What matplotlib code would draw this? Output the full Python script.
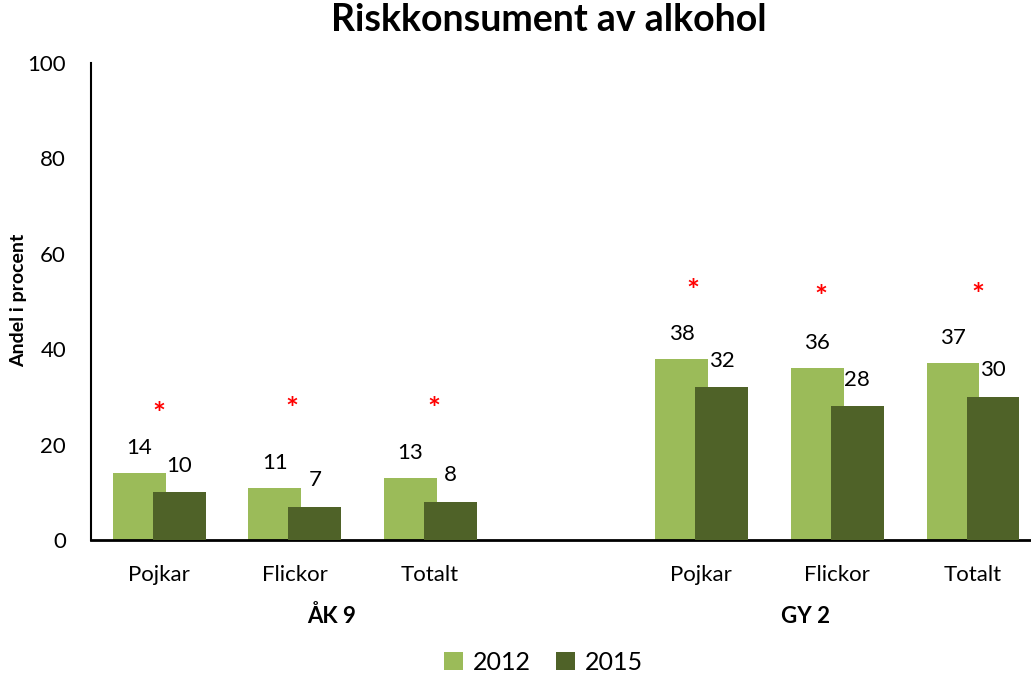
import matplotlib.pyplot as plt
import numpy as np

plt.rcParams['font.family'] = ['Lato', 'DejaVu Sans']

# data
categories = ['Pojkar', 'Flickor', 'Totalt', 'Pojkar', 'Flickor', 'Totalt']
groups = ['ÅK 9', 'GY 2']
y2012 = [14, 11, 13, 38, 36, 37]
y2015 = [10, 7, 8, 32, 28, 30]
star_y = [27.9, 28.9, 28.9, 53.5, 52.4, 52.8]
star_dx = [0.0, -0.02, 0.03, -0.06, -0.12, 0.04]

pos = np.array([0, 1, 2, 4, 5, 6])
light = '#9BBB59'
dark = '#4F6228'
w = 0.39

fig = plt.figure(figsize=(10.31, 6.77), dpi=100)
ax = fig.add_axes([0.0883, 0.2024, 0.9117, 0.7046])

b1 = ax.bar(pos - 0.145, y2012, width=w, color=light, label='2012', zorder=2)
b2 = ax.bar(pos + 0.15, y2015, width=w, color=dark, label='2015', zorder=3)

for b, v in zip(b1, y2012):
    ax.annotate(str(v), (b.get_x() + b.get_width() / 2, v), xytext=(0, 18),
                textcoords='offset points', ha='center', va='center', fontsize=16)
for b, v in zip(b2, y2015):
    ax.annotate(str(v), (b.get_x() + b.get_width() / 2, v), xytext=(0, 19),
                textcoords='offset points', ha='center', va='center', fontsize=16)

# significance stars
for p, dx, s in zip(pos, star_dx, star_y):
    ax.text(p + dx, s - 1.6, '*', color='red', ha='center', va='center',
            fontsize=22, fontweight='bold')

ax.set_ylim(0, 100)
ax.set_xlim(-0.5, 6.43)
ax.set_yticks(range(0, 101, 20))
ax.set_xticks(pos)
ax.set_xticklabels(categories)
ax.tick_params(axis='both', length=0, labelsize=16)
ax.tick_params(axis='x', pad=18)
ax.tick_params(axis='y', pad=18)

ax.spines['top'].set_visible(False)
ax.spines['right'].set_visible(False)
ax.spines['left'].set_linewidth(1.5)
ax.spines['bottom'].set_linewidth(2)

ax.set_ylabel('Andel i procent', fontsize=14, fontweight='bold')
ax.yaxis.set_label_coords(-0.068, 0.503)

ax.text(1.27, -16.0, groups[0], ha='center', va='center', fontsize=16, fontweight='bold')
ax.text(4.77, -16.0, groups[1], ha='center', va='center', fontsize=16, fontweight='bold')

fig.suptitle('Riskkonsument av alkohol', x=0.532, y=0.995, fontsize=27, fontweight='bold')

fig.legend(handles=[b1, b2], loc='center', bbox_to_anchor=(0.527, 0.022), ncol=2,
           frameon=False, fontsize=18, handlelength=0.75, handleheight=0.75,
           handletextpad=0.4, columnspacing=1.0)

fig.savefig('out.png', dpi=100)
